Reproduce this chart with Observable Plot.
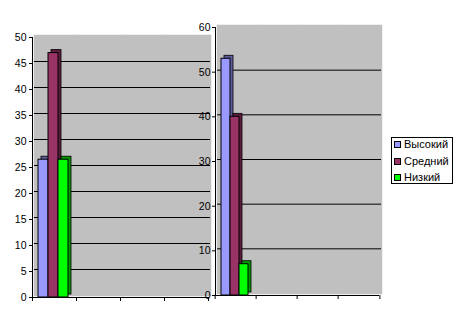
<!DOCTYPE html>
<html><head><meta charset="utf-8">
<script src="https://cdn.jsdelivr.net/npm/d3@7"></script>
<script src="https://cdn.jsdelivr.net/npm/@observablehq/plot@0.6"></script>
<style>
body{margin:0;background:#fff;}
#wrap{position:relative;width:457px;height:321px;overflow:hidden;font-family:"Liberation Sans",Arial,sans-serif;}
#wrap svg{position:absolute;top:0;}
#legend{position:absolute;left:391px;top:137px;width:60px;height:45px;border:1px solid #000;background:#fff;box-sizing:content-box;}
#legend .row{position:absolute;left:2px;height:14px;line-height:14px;font-size:11px;color:#000;white-space:nowrap;}
#legend .sw{display:inline-block;width:5px;height:5px;border:1px solid #000;margin-right:3px;vertical-align:0px;}
</style></head><body><div id="wrap"></div>
<script>
const series = ["Высокий", "Средний", "Низкий"];
const groups = ["1", "2", "3", "4"];
// only the first category carries values; the other three are empty in the chart
const leftValues = [26.5, 47, 26.5];
const rightValues = [53, 40, 7];
const leftTicks = [0, 5, 10, 15, 20, 25, 30, 35, 40, 45, 50];
const rightTicks = [0, 10, 20, 30, 40, 50, 60];
const colors = ["#9999ff", "#993366", "#00ff00"];

function panel(o) {
  const data = groups.flatMap((g, gi) => series.map((s, i) => ({group: g, series: s, value: gi === 0 ? o.values[i] : null})));
  const top = o.ticks[o.ticks.length - 1];
  const grid = o.ticks.filter(t => t > 0 && t < top);
  const fw = (o.width - o.ml - o.mr) / groups.length;
  const svg = Plot.plot({
    width: o.width, height: 321,
    marginLeft: o.ml, marginRight: o.mr, marginTop: o.mt, marginBottom: o.mb,
    style: {background: "transparent", fontFamily: "Liberation Sans, Arial, sans-serif", fontSize: "10.5px", color: "#000", overflow: "visible"},
    fx: {domain: groups, padding: 0, axis: null},
    x: {domain: series, paddingInner: 0, paddingOuter: o.po, align: 0.45, axis: null},
    y: {domain: [0, top], ticks: o.ticks, tickSize: 3, tickPadding: o.tp, line: true, label: null, axis: "left"},
    color: {domain: series, range: colors},
    marks: [
      Plot.frame({fill: "#c0c0c0", stroke: "#c0c0c0", strokeWidth: 1.5, dx: 2, dy: -2}),
      Plot.ruleY(grid, {stroke: "#000", strokeWidth: 1, dx: 2, dy: -2}),
      Plot.ruleY([0], {stroke: "#000"}),
      Plot.axisFx({anchor: "bottom", label: null, tickSize: 4, tickFormat: () => "", dx: -fw / 2, stroke: "#000"}),
      Plot.axisFx({anchor: "bottom", label: null, ticks: [groups[groups.length - 1]], tickSize: 4, tickFormat: () => "", dx: fw / 2, stroke: "#000"}),
      Plot.barY(data, {fx: "group", x: "series", y: "value", fill: "series", stroke: "#000", strokeWidth: 0.8, dx: 3, dy: -3}),
      Plot.barY(data, {fx: "group", x: "series", y: "value", fill: "#000", fillOpacity: 0.4, dx: 3, dy: -3}),
      Plot.barY(data, {fx: "group", x: "series", y: "value", fill: "series", stroke: "#000", strokeWidth: 1})
    ]
  });
  svg.style.left = o.left + "px";
  return svg;
}

const wrap = document.getElementById("wrap");
wrap.appendChild(panel({values: leftValues, ticks: leftTicks, width: 212, left: 0, ml: 32, mr: 4, mt: 37, mb: 24, po: 0.7, tp: 3}));
wrap.appendChild(panel({values: rightValues, ticks: rightTicks, width: 195, left: 190, ml: 23, mr: 5, mt: 27, mb: 26, po: 0.65, tp: 2}));

const legend = document.createElement("div");
legend.id = "legend";
series.forEach((s, i) => {
  const row = document.createElement("div");
  row.className = "row";
  row.style.top = (-1 + i * 16.5) + "px";
  const sw = document.createElement("span");
  sw.className = "sw";
  sw.style.background = colors[i];
  row.appendChild(sw);
  row.appendChild(document.createTextNode(s));
  legend.appendChild(row);
});
wrap.appendChild(legend);
</script></body></html>
